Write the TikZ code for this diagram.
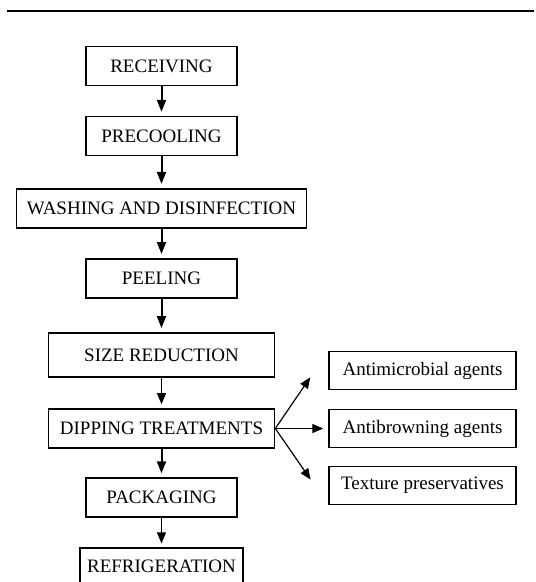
\documentclass[tikz,border=0pt]{standalone}
\usepackage{fontspec}
\setmainfont{Liberation Serif}
\usetikzlibrary{arrows.meta, positioning}

\begin{document}
\begin{tikzpicture}[x=1pt, y=-1pt]
    \tikzstyle{stage} = [rectangle, draw, line width=1.6pt, inner sep=0pt,
                         minimum width=151pt, minimum height=39pt,
                         font=\fontsize{19}{22}\selectfont]
    \tikzstyle{agent} = [stage, line width=1.4pt, minimum width=187pt, minimum height=38pt]
    \tikzstyle{flow} = [-{Triangle[length=12pt, width=9pt]}, line width=2pt, shorten >=4pt]
    \tikzstyle{lightflow} = [-{Triangle[length=11pt, width=9pt]}, line width=1pt, shorten >=4pt]

    \useasboundingbox (0,0) rectangle (536,582);
    \draw [line width=2pt] (7,11) -- (534,11);

    \node (rec)  [stage] at (161.5,66) {RECEIVING};
    \node (pre)  [stage, below=29.5pt of rec] {PRECOOLING};
    \node (wash) [stage, below=31.5pt of pre, minimum width=290pt] {WASHING AND DISINFECTION};
    \node (peel) [stage, below=29.5pt of wash] {PEELING};
    \node (size) [stage, below=33.5pt of peel, minimum width=226pt, minimum height=44pt] {SIZE REDUCTION};
    \node (dip)  [stage, below=30.5pt of size, minimum width=226pt] {DIPPING TREATMENTS};
    \node (pack) [stage, below=28.5pt of dip] {PACKAGING};
    \node (refr) [stage, below=29.5pt of pack, minimum width=163pt, minimum height=37pt] {REFRIGERATION};

    \node (abr) [agent, right=53pt of dip] {Antibrowning agents};
    \node (amb) [agent, above=18.5pt of abr] {Antimicrobial agents};
    \node (tex) [agent, below=17.5pt of abr] {Texture preservatives};

    \draw [flow] (rec)  -- (pre);
    \draw [flow] (pre)  -- (wash);
    \draw [flow] (wash) -- (peel);
    \draw [flow] (peel) -- (size);
    \draw [lightflow] (size) -- (dip);
    \draw [flow] (dip)  -- (pack);
    \draw [lightflow] (pack) -- (refr);
    \draw [lightflow, line width=1.2pt, shorten >=32pt] (dip.east) -- (amb.north west);
    \draw [lightflow, line width=1.2pt, shorten >=5pt]  (dip.east) -- (abr.west);
    \draw [lightflow, line width=1.2pt, shorten >=31pt] (dip.east) -- (tex.south west);
\end{tikzpicture}
\end{document}
